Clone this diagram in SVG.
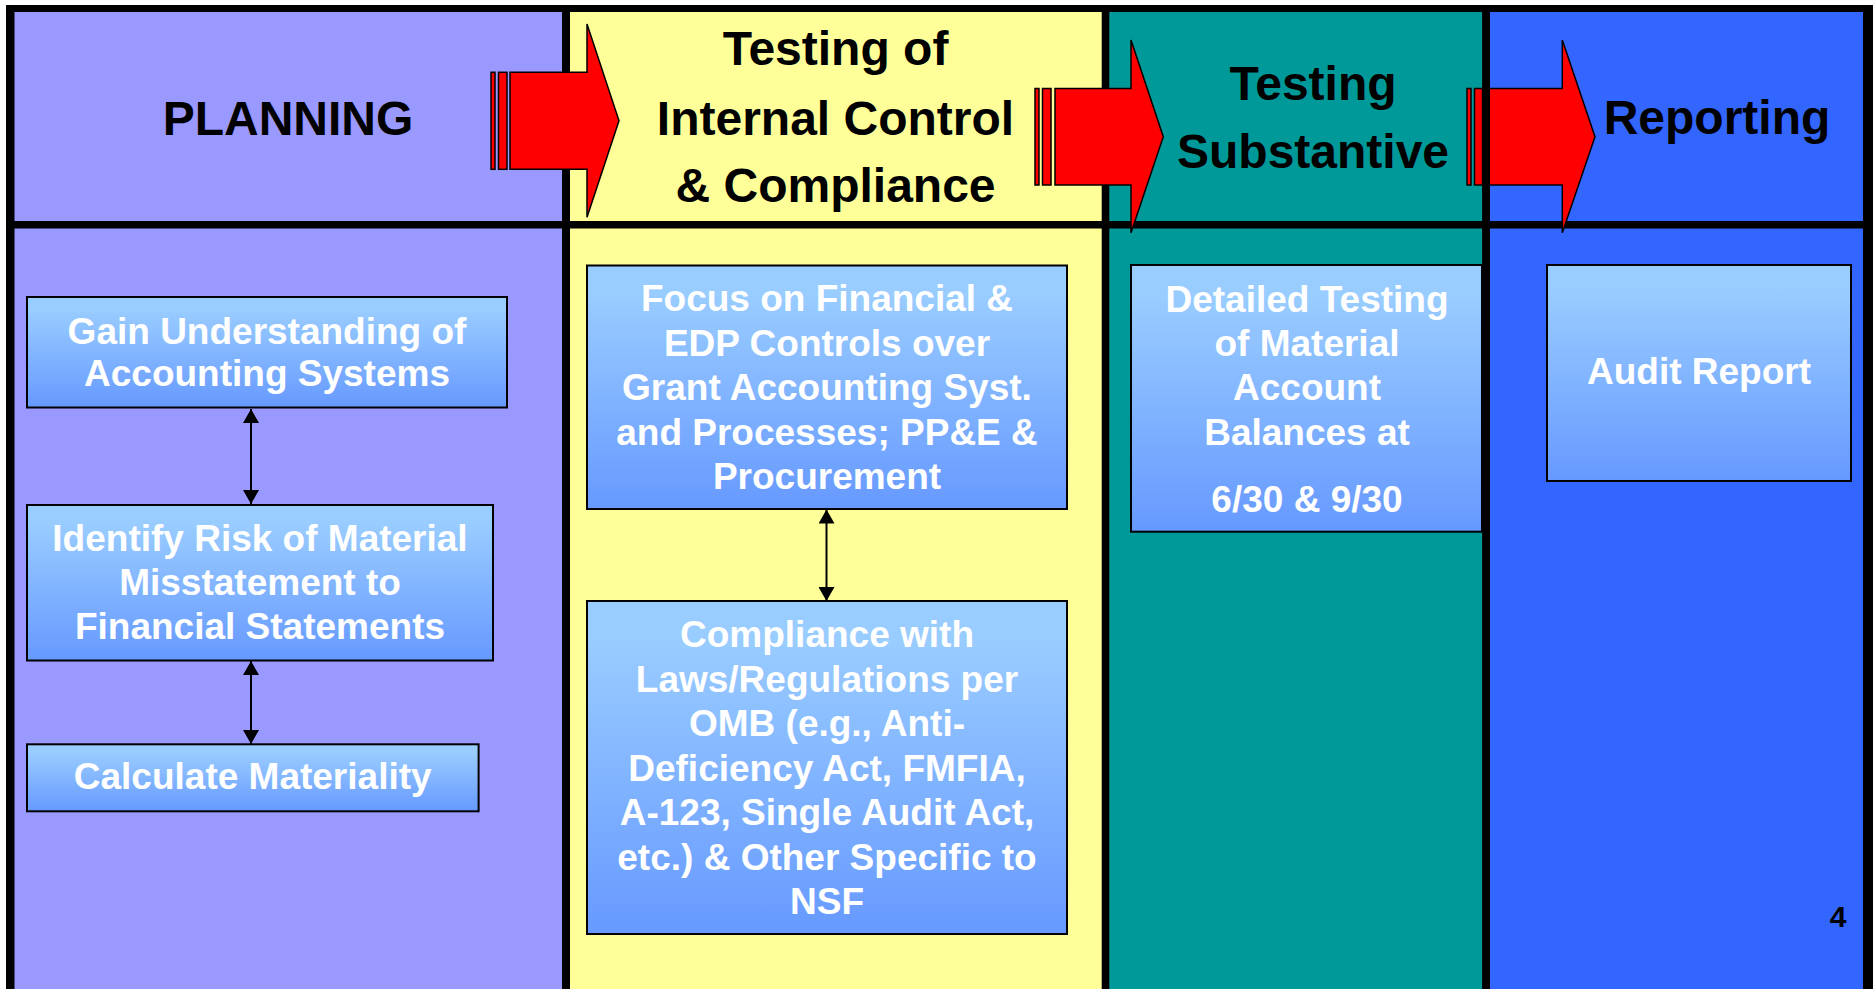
<svg xmlns="http://www.w3.org/2000/svg" width="1873" height="989" viewBox="0 0 1873 989">
<style>
.hdr{font-family:"Liberation Sans",Arial,sans-serif;font-weight:bold;font-size:48px;fill:#000;text-anchor:middle}
.box{stroke:#000;stroke-width:2;fill:url(#boxGrad)}
.bt{font-family:"Liberation Sans",Arial,sans-serif;font-weight:bold;font-size:37px;fill:#fff;text-anchor:middle}
.rule{fill:#000}
.big{fill:#ff0000;stroke:#000;stroke-width:1.5;stroke-linejoin:miter}
.conn{stroke:#000;stroke-width:2;fill:none;marker-start:url(#tri);marker-end:url(#tri)}
.pg{font-family:"Liberation Sans",Arial,sans-serif;font-weight:bold;font-size:30px;fill:#000;text-anchor:middle}
</style>
<defs>
<linearGradient id="boxGrad" x1="0" y1="0" x2="0" y2="1">
<stop offset="0" stop-color="#99ccff"/>
<stop offset="0.12" stop-color="#99ccff"/>
<stop offset="1" stop-color="#6699ff"/>
</linearGradient>
<marker id="tri" viewBox="0 0 14 16" refX="14" refY="8" markerWidth="14" markerHeight="16" markerUnits="userSpaceOnUse" orient="auto-start-reverse">
<path d="M0,0 L14,8 L0,16 Z" fill="#000"/>
</marker>
</defs>
<rect x="0" y="0" width="1873" height="989" fill="#fff"/>
<rect x="6" y="5" width="1867" height="984" fill="#000"/>
<g id="col-planning">
<rect x="14.5" y="12" width="547.5" height="977" fill="#9999ff"/>
<text class="hdr" x="288" y="135">PLANNING</text>
</g>
<g id="col-internal-control">
<rect x="570" y="12" width="531.7" height="977" fill="#ffff99"/>
<text class="hdr" x="835.5" y="65">Testing of</text>
<text class="hdr" x="835.5" y="135">Internal Control</text>
<text class="hdr" x="835.5" y="202">&amp; Compliance</text>
</g>
<g id="col-substantive">
<rect x="1109.3" y="12" width="373" height="977" fill="#009999"/>
<text class="hdr" x="1313" y="100">Testing</text>
<text class="hdr" x="1313" y="168">Substantive</text>
</g>
<g id="col-reporting">
<rect x="1490" y="12" width="373" height="977" fill="#3366ff"/>
<text class="hdr" x="1717" y="134">Reporting</text>
</g>
<rect class="rule" x="6" y="221" width="1867" height="7.5"/>
<g id="phase-arrows">
<g id="arrow-1">
<rect class="big" x="491" y="72.3" width="4" height="97"/>
<rect class="big" x="498.5" y="72.3" width="8.5" height="97"/>
<polygon class="big" points="510,72.3 587,72.3 587,24 619,120.7 587,217.3 587,169.3 510,169.3"/>
</g>
<g id="arrow-2">
<rect class="big" x="1035" y="88.5" width="4" height="96.5"/>
<rect class="big" x="1042.5" y="88.5" width="8.5" height="96.5"/>
<polygon class="big" points="1055,88.5 1131,88.5 1131,40 1163.3,136.7 1131,232.7 1131,185 1055,185"/>
</g>
<g id="arrow-3">
<rect class="big" x="1467" y="88.5" width="4" height="96.5"/>
<rect class="big" x="1474.5" y="88.5" width="8" height="96.5"/>
<polygon class="big" points="1485,88.5 1562.3,88.5 1562.3,40 1595,136.7 1562.3,232.7 1562.3,185 1485,185"/>
</g>
</g>
<rect class="rule" x="1482.3" y="12" width="7.7" height="977"/>
<g id="node-gain">
<rect class="box" x="27" y="297" width="480" height="110.5"/>
<text class="bt" x="267" y="344">Gain Understanding of</text>
<text class="bt" x="267" y="386">Accounting Systems</text>
</g>
<g id="node-identify">
<rect class="box" x="27" y="505" width="466" height="155.5"/>
<text class="bt" x="260" y="551">Identify Risk of Material</text>
<text class="bt" x="260" y="595">Misstatement to</text>
<text class="bt" x="260" y="639">Financial Statements</text>
</g>
<g id="node-calculate">
<rect class="box" x="27" y="744.3" width="451.6" height="67"/>
<text class="bt" x="252.7" y="789">Calculate Materiality</text>
</g>
<g id="node-focus">
<rect class="box" x="587" y="265.5" width="480" height="243.5"/>
<text class="bt" x="827" y="311">Focus on Financial &amp;</text>
<text class="bt" x="827" y="355.5">EDP Controls over</text>
<text class="bt" x="827" y="400">Grant Accounting Syst.</text>
<text class="bt" x="827" y="444.5">and Processes; PP&amp;E &amp;</text>
<text class="bt" x="827" y="489">Procurement</text>
</g>
<g id="node-compliance">
<rect class="box" x="587" y="601" width="480" height="333"/>
<text class="bt" x="827" y="647">Compliance with</text>
<text class="bt" x="827" y="691.5">Laws/Regulations per</text>
<text class="bt" x="827" y="736">OMB (e.g., Anti-</text>
<text class="bt" x="827" y="780.5">Deficiency Act, FMFIA,</text>
<text class="bt" x="827" y="825">A-123, Single Audit Act,</text>
<text class="bt" x="827" y="869.5">etc.) &amp; Other Specific to</text>
<text class="bt" x="827" y="914">NSF</text>
</g>
<g id="node-detailed">
<rect class="box" x="1131" y="265" width="351" height="266.7"/>
<text class="bt" x="1307" y="311.7">Detailed Testing</text>
<text class="bt" x="1307" y="355.5">of Material</text>
<text class="bt" x="1307" y="400">Account</text>
<text class="bt" x="1307" y="445">Balances at</text>
<text class="bt" x="1307" y="511.7">6/30 &amp; 9/30</text>
</g>
<g id="node-audit">
<rect class="box" x="1547" y="265" width="304" height="216"/>
<text class="bt" x="1699" y="384">Audit Report</text>
</g>
<g id="connectors">
<line class="conn" x1="251" y1="409" x2="251" y2="504"/>
<line class="conn" x1="251" y1="661" x2="251" y2="744"/>
<line class="conn" x1="826.5" y1="509.5" x2="826.5" y2="601"/>
</g>
<text class="pg" x="1838" y="927">4</text>
</svg>
